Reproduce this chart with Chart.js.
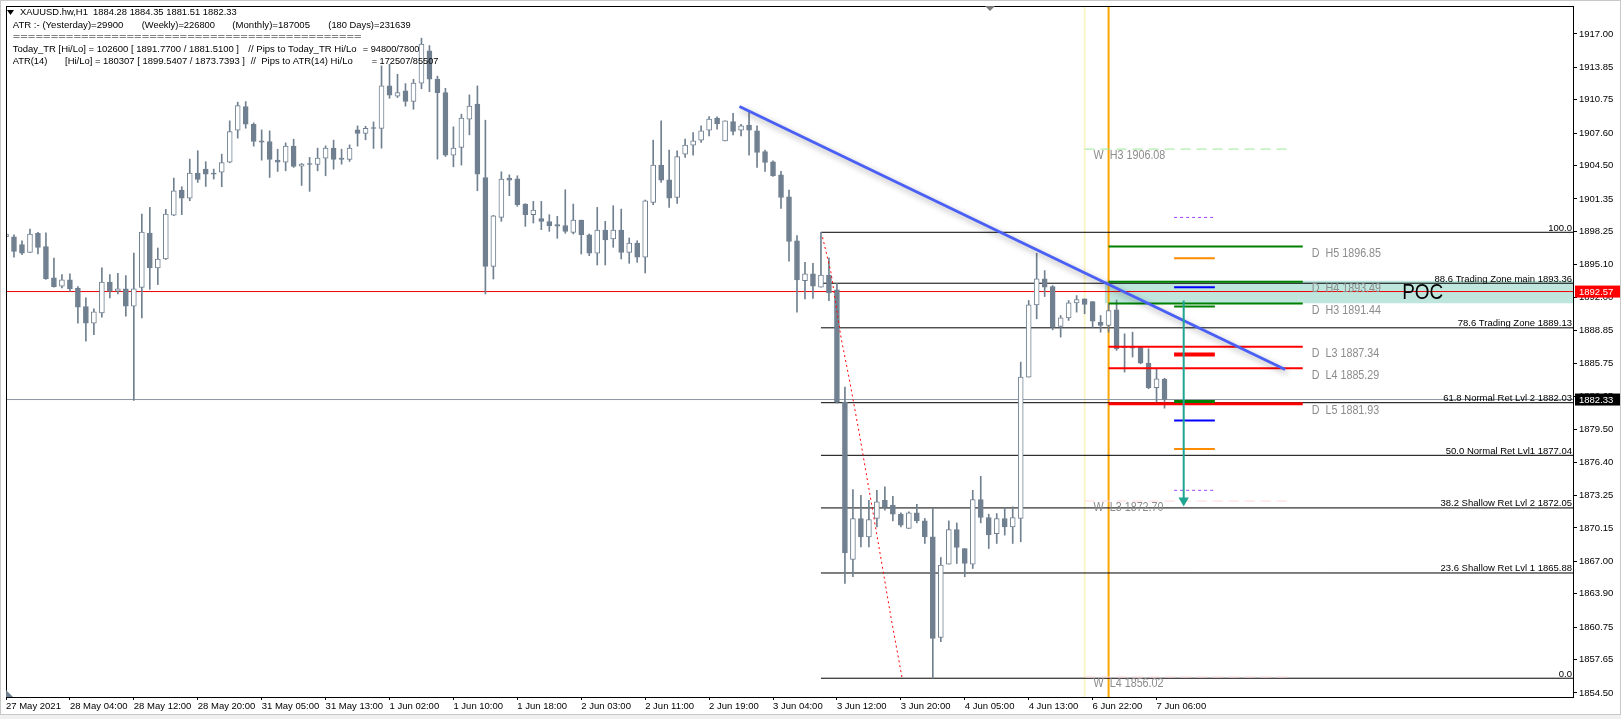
<!DOCTYPE html>
<html>
<head>
<meta charset="utf-8">
<script src="https://cdn.jsdelivr.net/npm/chart.js@4.4.1/dist/chart.umd.min.js"></script>
<style>
  html, body { margin: 0; padding: 0; background: #fff; }
  #wrap { position: relative; width: 1621px; height: 719px; }
</style>
</head>
<body>
<div id="wrap"><canvas id="c" width="1621" height="719"></canvas></div>
<script>
// ==========================================
// 1. DATOS (XAUUSD H1)
// ==========================================
const xLabels = ['27 May 2021', '28 May 04:00', '28 May 12:00', '28 May 20:00', '31 May 05:00', '31 May 13:00',
  '1 Jun 02:00', '1 Jun 10:00', '1 Jun 18:00', '2 Jun 03:00', '2 Jun 11:00', '2 Jun 19:00', '3 Jun 04:00',
  '3 Jun 12:00', '3 Jun 20:00', '4 Jun 05:00', '4 Jun 13:00', '6 Jun 22:00', '7 Jun 06:00'];
const barsPerLabel = 8;

const yTicks = [1854.50, 1857.65, 1860.75, 1863.90, 1867.00, 1870.15, 1873.25, 1876.40, 1879.50, 1882.65,
  1885.75, 1888.85, 1892.00, 1895.10, 1898.25, 1901.35, 1904.50, 1907.60, 1910.75, 1913.85, 1917.00];

const opens = [1897.77, 1897.77, 1897.02, 1896.29, 1898.09, 1896.83, 1893.86, 1893.07, 1893.67, 1892.91,
  1891.14, 1889.57, 1890.54, 1893.48, 1892.60, 1892.82, 1891.18, 1892.97, 1898.12, 1894.81,
  1895.66, 1899.82, 1902.19, 1901.43, 1903.80, 1904.18, 1903.77, 1903.90, 1904.84, 1907.87,
  1910.12, 1908.44, 1906.86, 1906.80, 1905.03, 1904.84, 1906.36, 1904.46, 1904.65, 1904.62,
  1905.22, 1906.17, 1905.22, 1905.10, 1907.91, 1907.56, 1908.06, 1908.03, 1912.07, 1911.09,
  1911.60, 1910.59, 1912.33, 1915.39, 1912.71, 1911.44, 1905.51, 1906.23, 1908.92, 1910.34,
  1903.39, 1894.96, 1899.60, 1903.33, 1903.27, 1900.87, 1899.86, 1899.48, 1899.20, 1898.91,
  1898.82, 1898.18, 1899.35, 1897.96, 1896.20, 1898.41, 1897.55, 1898.41, 1896.29, 1897.17,
  1895.82, 1901.02, 1904.56, 1903.17, 1901.50, 1905.60, 1906.45, 1906.93, 1907.87, 1909.01,
  1906.86, 1908.70, 1907.87, 1908.35, 1907.81, 1905.85, 1904.88, 1903.64, 1901.56, 1897.39,
  1893.61, 1894.24, 1892.98, 1894.14, 1892.73, 1882.09, 1867.16, 1871.05, 1869.31, 1871.05,
  1872.78, 1872.31, 1871.46, 1870.10, 1871.58, 1870.82, 1869.31, 1859.77, 1866.72, 1870.00,
  1868.20, 1866.72, 1872.84, 1871.14, 1869.62, 1871.05, 1870.26, 1871.05, 1884.46, 1891.31,
  1893.77, 1893.05, 1889.26, 1890.08, 1891.50, 1891.88, 1891.63, 1889.67, 1889.35, 1890.83,
  1887.30, 1887.30, 1887.30, 1885.79, 1883.45, 1884.28];

const highs = [1898.81, 1897.96, 1897.39, 1898.50, 1898.18, 1898.15, 1895.75, 1894.17, 1894.24, 1893.04,
  1891.97, 1890.92, 1894.81, 1894.17, 1894.30, 1894.08, 1896.23, 1899.92, 1900.55, 1896.70,
  1900.36, 1903.33, 1902.51, 1905.13, 1905.92, 1904.88, 1904.18, 1905.60, 1908.76, 1910.53,
  1910.59, 1908.57, 1907.90, 1907.81, 1906.07, 1906.67, 1907.02, 1904.72, 1905.29, 1906.17,
  1906.39, 1906.93, 1906.07, 1906.48, 1908.28, 1908.25, 1908.66, 1913.97, 1914.12, 1913.18,
  1912.29, 1912.70, 1916.60, 1915.90, 1913.00, 1911.85, 1908.19, 1909.39, 1911.22, 1912.07,
  1908.82, 1899.80, 1903.93, 1903.64, 1903.55, 1900.90, 1901.12, 1901.12, 1899.86, 1899.70,
  1902.22, 1900.87, 1899.35, 1898.03, 1900.55, 1899.23, 1900.71, 1900.39, 1897.65, 1897.39,
  1901.25, 1906.93, 1908.76, 1905.98, 1905.92, 1907.02, 1907.65, 1908.28, 1909.17, 1909.14,
  1908.76, 1909.48, 1908.44, 1909.55, 1908.28, 1905.98, 1904.97, 1903.96, 1902.19, 1897.87,
  1895.34, 1895.25, 1898.19, 1895.75, 1893.35, 1883.50, 1873.79, 1873.25, 1872.78, 1873.72,
  1874.04, 1873.16, 1871.58, 1871.68, 1872.40, 1871.05, 1872.00, 1867.35, 1870.82, 1870.63,
  1868.20, 1873.72, 1875.05, 1871.46, 1871.52, 1872.09, 1872.15, 1885.88, 1891.72, 1896.20,
  1894.56, 1893.14, 1890.30, 1891.72, 1892.19, 1891.88, 1891.63, 1890.30, 1891.40, 1891.77,
  1888.56, 1888.72, 1887.30, 1887.14, 1885.25, 1884.35];

const lows = [1897.39, 1895.82, 1896.07, 1896.29, 1896.13, 1893.73, 1892.98, 1892.91, 1892.60, 1889.57,
  1887.86, 1888.49, 1890.13, 1891.97, 1892.34, 1890.23, 1882.24, 1890.07, 1892.78, 1893.23,
  1895.60, 1899.76, 1899.86, 1901.18, 1902.92, 1902.54, 1903.24, 1902.51, 1904.78, 1907.12,
  1908.06, 1906.36, 1905.03, 1903.39, 1903.96, 1904.02, 1904.34, 1902.63, 1902.07, 1904.02,
  1903.55, 1904.18, 1904.65, 1904.91, 1906.36, 1906.96, 1906.14, 1906.17, 1910.90, 1910.97,
  1910.15, 1909.86, 1911.80, 1911.53, 1905.13, 1905.38, 1904.40, 1904.56, 1907.43, 1902.13,
  1892.34, 1893.76, 1899.23, 1901.66, 1900.65, 1898.75, 1899.07, 1898.44, 1898.28, 1897.62,
  1898.09, 1898.03, 1896.13, 1895.97, 1895.09, 1895.09, 1896.77, 1895.66, 1895.25, 1895.34,
  1894.33, 1900.80, 1902.92, 1900.55, 1900.93, 1905.29, 1905.51, 1906.71, 1907.34, 1907.97,
  1906.86, 1907.43, 1907.34, 1905.51, 1904.34, 1903.96, 1903.49, 1900.46, 1895.44, 1890.61,
  1891.87, 1891.93, 1892.98, 1891.71, 1881.98, 1864.89, 1865.52, 1868.36, 1868.36, 1870.26,
  1871.83, 1870.82, 1870.26, 1870.10, 1870.63, 1868.68, 1855.90, 1859.37, 1866.72, 1866.78,
  1865.52, 1866.31, 1870.63, 1868.20, 1868.68, 1869.47, 1868.68, 1868.84, 1884.46, 1889.98,
  1892.10, 1888.94, 1888.25, 1889.83, 1890.62, 1890.46, 1889.19, 1888.72, 1888.72, 1886.99,
  1884.93, 1886.36, 1885.72, 1883.35, 1882.09, 1881.51];

const closes = [1898.03, 1896.38, 1896.20, 1898.03, 1896.76, 1893.80, 1893.04, 1893.67, 1892.82, 1891.08,
  1889.57, 1890.64, 1893.48, 1892.60, 1892.82, 1891.18, 1892.82, 1898.22, 1894.81, 1895.66,
  1899.92, 1902.13, 1901.43, 1903.80, 1903.20, 1903.71, 1903.71, 1904.81, 1907.75, 1910.21,
  1908.44, 1906.80, 1906.74, 1905.10, 1904.84, 1906.36, 1904.43, 1904.65, 1904.62, 1905.22,
  1906.17, 1905.10, 1905.10, 1906.17, 1907.56, 1908.06, 1908.03, 1912.07, 1911.19, 1911.44,
  1910.59, 1912.33, 1916.05, 1912.71, 1911.44, 1905.51, 1906.17, 1909.01, 1910.15, 1903.71,
  1894.96, 1899.76, 1903.23, 1903.14, 1900.80, 1899.86, 1900.30, 1899.23, 1898.82, 1898.78,
  1898.28, 1899.35, 1897.96, 1896.20, 1898.41, 1897.46, 1898.41, 1896.29, 1897.17, 1895.82,
  1901.18, 1904.56, 1903.14, 1901.43, 1905.38, 1906.45, 1906.86, 1907.81, 1908.92, 1908.50,
  1908.76, 1907.75, 1908.28, 1907.87, 1905.76, 1904.81, 1903.55, 1901.50, 1897.33, 1893.67,
  1894.24, 1893.07, 1894.14, 1892.44, 1882.09, 1867.79, 1871.05, 1869.31, 1870.95, 1872.62,
  1872.15, 1871.46, 1870.41, 1871.58, 1870.82, 1869.31, 1859.68, 1866.62, 1870.00, 1868.30,
  1866.78, 1872.84, 1871.14, 1869.50, 1871.05, 1870.26, 1871.14, 1884.46, 1891.31, 1893.77,
  1892.98, 1889.19, 1890.08, 1891.50, 1891.82, 1891.34, 1889.76, 1889.35, 1890.77, 1887.14,
  1887.24, 1887.20, 1885.79, 1883.45, 1884.30, 1882.33];

// Fibonacci (anclado en la vela 102)
const fibStartBar = 102;
const fibPcts   = ['100.0', '88.6', '78.6', '61.8', '50.0', '38.2', '23.6', '0.0'];
const fibNames  = ['', 'Trading Zone main', 'Trading Zone', 'Normal Ret Lvl 2', 'Normal Ret Lvl1', 'Shallow Ret Lvl 2', 'Shallow Ret Lvl 1', ''];
const fibPrices = [1898.19, 1893.36, 1889.13, 1882.03, 1877.04, 1872.05, 1865.88, 1855.90];

// Pivotes diarios / semanales
const dayStartBar = 138, dayEndBar = 162.3;
const dNames  = ['H5', 'H4', 'H3', 'L3', 'L4', 'L5'];
const dValues = [1896.85, 1893.49, 1891.44, 1887.34, 1885.29, 1881.93];
const weekStartBar = 135, weekEndBar = 161;
const wNames  = ['H3', 'L3', 'L4'];
const wValues = [1906.08, 1872.70, 1856.02];

// niveles cortos
const shortFrom = 146.2, shortTo = 151.3;
const shortLevels = [1899.60, 1895.72, 1892.98, 1891.15, 1886.60, 1882.15, 1880.35, 1877.63, 1873.72];

// lineas dibujadas
const trendX = [91.8, 160.1], trendY = [1910.12, 1885.18];
const zigX = [102.2, 103.25, 104.5, 105.5, 106.8, 108.25, 109.9, 110.75, 112.2];
const zigY = [1897.72, 1894.40, 1888.25, 1884.46, 1879.10, 1872.78, 1865.52, 1861.73, 1855.74];
const arrowBar = 147.4, arrowY = [1891.72, 1872.75];
const pocFrom = 137.5, pocLow = 1891.45, pocHigh = 1893.60, pocTextBar = 174.75;
const markPrice = 1892.57;
const lastPrice = closes[closes.length - 1];

const headerLines = [
  [['XAUUSD.hw,H1  1884.28 1884.35 1881.51 1882.33', 20, 216.7]],
  [['ATR :- (Yesterday)=29900', 12.7, 110.7], ['(Weekly)=226800', 141.7, 73.3], ['(Monthly)=187005', 232.3, 77.7], ['(180 Days)=231639', 328.3, 82.3]],
  [['==============================================', 12.7, 349]],
  [['Today_TR [Hi/Lo] = 102600 [ 1891.7700 / 1881.5100 ]', 12.7, 226.3], ['// Pips to Today_TR Hi/Lo', 248.3, 108.3], ['= 94800/7800', 362.7, 56.7]],
  [['ATR(14)', 12.7, 34.7], ['[Hi/Lo] = 180307 [ 1899.5407 / 1873.7393 ]', 65, 180], ['//  Pips to ATR(14) Hi/Lo', 250.7, 102], ['= 172507/85507', 371.7, 66.7]]
];
const headerY = [12.7, 25, 36, 49.3, 61.7];

// ==========================================
// 2. ESTILOS Y ESCALAS
// ==========================================
const FONT = '"Liberation Sans", Arial, sans-serif';
const candleColor = '#708090';
const xMax = 196.125;
const yMin = 1854.12, yMax = 1919.65;
const shortStyle = [
  { c: '#a040ff', w: 1, d: [3, 3] }, { c: '#ff8c00', w: 2 }, { c: '#0000ff', w: 2 }, { c: '#008000', w: 2 },
  { c: '#ff0000', w: 4 }, { c: '#008000', w: 3 }, { c: '#0000ff', w: 2 }, { c: '#ff8c00', w: 2 },
  { c: '#a040ff', w: 1, d: [3, 3] }
];

const seg = (x0, x1, y0, y1, color, width, order, dash) => ({
  type: 'line',
  data: [{ x: x0, y: y0 }, { x: x1, y: y1 }],
  borderColor: color, borderWidth: width, borderDash: dash || [],
  pointRadius: 0, fill: false, order: order
});

const datasets = [];

// rectangulo POC
datasets.push({
  type: 'line', data: [{ x: pocFrom, y: pocHigh }, { x: xMax, y: pocHigh }],
  borderWidth: 0, pointRadius: 0, backgroundColor: 'rgba(110,200,180,0.45)',
  fill: { value: pocLow }, order: 100
});

// separadores verticales
datasets.push(seg(weekStartBar, weekStartBar, yMin, yMax, '#faf6c8', 2, 95));
datasets.push(seg(dayStartBar, dayStartBar, yMin, yMax, '#ffa500', 2, 94));

// fibonacci
fibPrices.forEach(p => datasets.push(seg(fibStartBar, xMax, p, p, '#000000', 1, 80)));

// precio marcado y bid
datasets.push(seg(-1, xMax, markPrice, markPrice, '#ee0000', 1, 79));
datasets.push(seg(-1, xMax, lastPrice, lastPrice, '#8a96a3', 1, 78));

// velas: mechas y cuerpos
datasets.push({
  type: 'bar', data: opens.map((o, i) => ({ x: i, y: [lows[i], highs[i]] })),
  backgroundColor: candleColor, barThickness: 1, grouped: false, order: 60
});
datasets.push({
  type: 'bar', data: opens.map((o, i) => ({ x: i, y: [o, closes[i]] })),
  backgroundColor: opens.map((o, i) => closes[i] >= o ? '#ffffff' : candleColor),
  borderColor: candleColor, borderWidth: 1, borderSkipped: false,
  barThickness: 5, minBarLength: 1, grouped: false, order: 55
});

// pivotes semanales (discontinuos)
wValues.forEach((v, k) => datasets.push(seg(weekStartBar, weekEndBar, v, v, k === 0 ? '#9be89b' : '#ffd8d8', 1, 40, [10, 6])));

// pivotes diarios
dValues.forEach((v, k) => datasets.push(seg(dayStartBar, dayEndBar, v, v, k < 3 ? '#008000' : '#ff0000', k === 5 ? 3 : 2, 30)));

// niveles cortos
shortLevels.forEach((v, k) => datasets.push(seg(shortFrom, shortTo, v, v, shortStyle[k].c, shortStyle[k].w, 20, shortStyle[k].d)));

// linea roja punteada
datasets.push({
  type: 'line', data: zigX.map((x, k) => ({ x: x, y: zigY[k] })),
  borderColor: '#ff0000', borderWidth: 1, borderDash: [2, 3], pointRadius: 0, fill: false, order: 15
});

// tendencia azul con sombra
const trendDs = seg(trendX[0], trendX[1], trendY[0], trendY[1], '#4a5ff5', 3, 10);
trendDs.shadow = true;
datasets.push(trendDs);

// flecha
datasets.push({
  type: 'line', data: [{ x: arrowBar, y: arrowY[0] }, { x: arrowBar, y: arrowY[1] }],
  borderColor: '#1fa592', borderWidth: 2, fill: false, order: 5,
  pointRadius: [0, 4], pointStyle: 'triangle', rotation: [0, 180],
  pointBackgroundColor: '#1fa592', pointBorderColor: '#1fa592'
});

// ==========================================
// 3. PLUGINS DE DIBUJO
// ==========================================
function drawFit(ctx, txt, x, y, w) {
  const m = ctx.measureText(txt).width;
  ctx.save(); ctx.translate(x, y); ctx.scale(w / m, 1); ctx.fillText(txt, 0, 0); ctx.restore();
}
function drawSx(ctx, txt, x, y, sx) {
  ctx.save(); ctx.translate(x, y); ctx.scale(sx, 1); ctx.fillText(txt, 0, 0); ctx.restore();
}

const shadowPlugin = {
  id: 'shadow',
  beforeDatasetDraw(chart, args) {
    if (chart.data.datasets[args.index].shadow) {
      const c = chart.ctx; c.save();
      c.shadowColor = 'rgba(0,0,0,0.35)'; c.shadowBlur = 6; c.shadowOffsetX = 2; c.shadowOffsetY = 3;
    }
  },
  afterDatasetDraw(chart, args) {
    if (chart.data.datasets[args.index].shadow) chart.ctx.restore();
  }
};

const overlayPlugin = {
  id: 'overlay',
  afterDatasetsDraw(chart) {
    const { ctx, chartArea: a, scales: { x, y } } = chart;
    ctx.save();

    // etiquetas fibo
    ctx.font = '9.5px ' + FONT; ctx.fillStyle = '#000'; ctx.textAlign = 'right'; ctx.textBaseline = 'alphabetic';
    fibPrices.forEach((p, k) => {
      const t = fibNames[k] ? `${fibPcts[k]} ${fibNames[k]} ${p.toFixed(2)}` : fibPcts[k];
      ctx.fillText(t, a.right - 1, y.getPixelForValue(p) - 1.5);
    });

    // etiquetas pivotes
    ctx.font = '12.5px ' + FONT; ctx.fillStyle = '#8c8c8c'; ctx.textAlign = 'left'; ctx.textBaseline = 'middle';
    dValues.forEach((v, k) => drawSx(ctx, `D  ${dNames[k]} ${v.toFixed(2)}`, x.getPixelForValue(dayEndBar) + 9, y.getPixelForValue(v) + 7, 0.86));
    wValues.forEach((v, k) => drawSx(ctx, `W  ${wNames[k]} ${v.toFixed(2)}`, x.getPixelForValue(weekStartBar) + 9, y.getPixelForValue(v) + 6.5, 0.86));

    // POC
    ctx.font = '22px ' + FONT; ctx.fillStyle = '#000';
    drawFit(ctx, 'POC', x.getPixelForValue(pocTextBar), y.getPixelForValue((pocLow + pocHigh) / 2) + 1, 41);

    // cabecera
    ctx.font = '9.5px ' + FONT; ctx.fillStyle = '#000';
    headerLines.forEach((line, r) => line.forEach(s => drawFit(ctx, s[0], s[1], headerY[r], s[2])));
    ctx.beginPath(); ctx.moveTo(7, 10); ctx.lineTo(14, 10); ctx.lineTo(10.5, 15); ctx.closePath(); ctx.fill();
    ctx.restore();
  },
  afterDraw(chart) {
    const { ctx, chartArea: a, scales: { y } } = chart;
    ctx.save();
    // marco
    ctx.strokeStyle = '#000'; ctx.lineWidth = 1;
    ctx.strokeRect(Math.floor(a.left) + 0.5, Math.floor(a.top) + 0.5, Math.round(a.right - a.left), Math.round(a.bottom - a.top));
    // cajas de precio
    ctx.font = '9.5px ' + FONT; ctx.textBaseline = 'middle'; ctx.textAlign = 'left';
    [[markPrice, '#ff0000'], [lastPrice, '#000000']].forEach(([p, bg]) => {
      const py = y.getPixelForValue(p);
      ctx.fillStyle = bg; ctx.fillRect(a.right + 2, py - 6, 1621 - a.right - 3, 12);
      ctx.fillStyle = '#fff'; ctx.fillText(p.toFixed(2), a.right + 6, py + 0.5);
    });
    // marcadores
    ctx.fillStyle = '#7a7a7a';
    ctx.beginPath(); ctx.moveTo(985, a.top); ctx.lineTo(995, a.top); ctx.lineTo(990, a.top + 5); ctx.closePath(); ctx.fill();
    ctx.fillStyle = candleColor;
    ctx.beginPath(); ctx.moveTo(a.left, a.bottom - 7); ctx.lineTo(a.left + 7, a.bottom); ctx.lineTo(a.left, a.bottom); ctx.closePath(); ctx.fill();
    // borde de ventana
    ctx.strokeStyle = '#c8c8c8'; ctx.strokeRect(0.5, 0.5, 1620, 714);
    ctx.fillStyle = '#f0f0f0'; ctx.fillRect(0, 715, 1621, 4);
    ctx.restore();
  }
};

// ==========================================
// 4. GRAFICO
// ==========================================
new Chart(document.getElementById('c').getContext('2d'), {
  type: 'bar',
  data: { datasets: datasets },
  plugins: [shadowPlugin, overlayPlugin],
  options: {
    responsive: false, animation: false, events: [],
    layout: { padding: { left: 4.5, top: 5, right: 0, bottom: 0 } },
    plugins: { legend: { display: false }, tooltip: { enabled: false } },
    scales: {
      x: {
        type: 'linear', min: 0, max: xMax, offset: false,
        grid: { display: true, drawOnChartArea: false, drawTicks: true, tickLength: 3, color: '#000', offset: false },
        border: { display: true, color: '#000' },
        afterBuildTicks: s => { s.ticks = xLabels.map((l, k) => ({ value: k * barsPerLabel })); },
        afterFit: s => { s.height = 22; s.paddingLeft = 0; s.paddingRight = 0; },
        ticks: {
          autoSkip: false, maxRotation: 0, align: 'start', padding: 1, color: '#000',
          font: { family: FONT, size: 9.5 },
          callback: (v, k) => xLabels[k]
        }
      },
      y: {
        type: 'linear', position: 'right', min: yMin, max: yMax,
        grid: { display: true, drawOnChartArea: false, drawTicks: true, tickLength: 4, color: '#000' },
        border: { display: true, color: '#000' },
        afterBuildTicks: s => { s.ticks = yTicks.map(v => ({ value: v })); },
        afterFit: s => { s.width = 48; s.paddingTop = 0; s.paddingBottom = 0; },
        ticks: {
          padding: 2, color: '#000', font: { family: FONT, size: 9.5 },
          callback: v => v.toFixed(2)
        }
      }
    }
  }
});
</script>
</body>
</html>
